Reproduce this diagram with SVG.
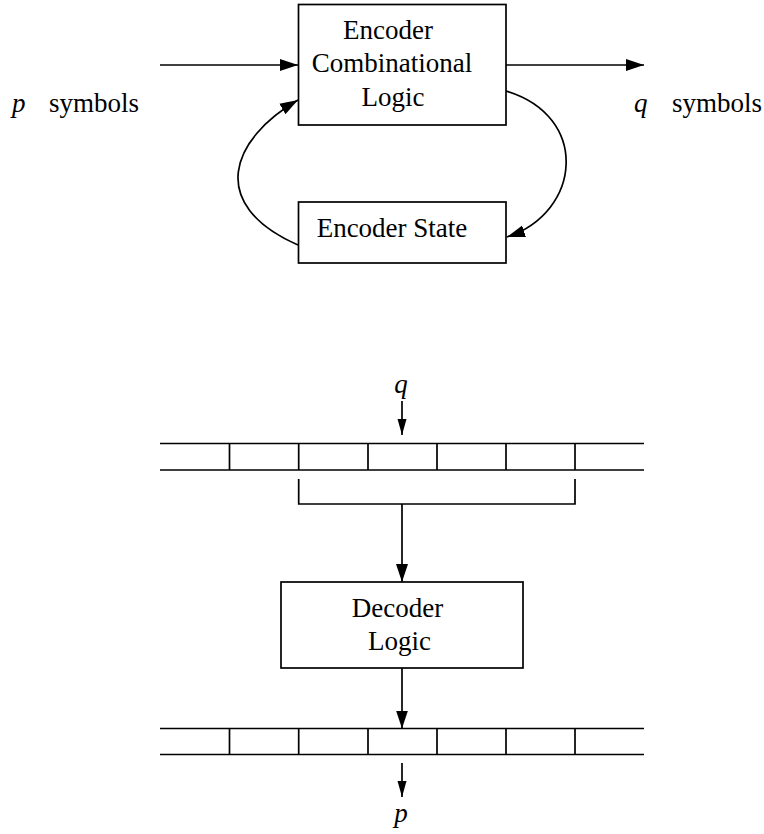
<svg xmlns="http://www.w3.org/2000/svg" width="764" height="834" viewBox="0 0 764 834">
<style>
.ln{fill:none;stroke:#000;stroke-width:1.7}
.bx{fill:#fff;stroke:#000;stroke-width:1.7}
.i{font-style:italic}
.m{text-anchor:middle}
</style>
<defs>
<marker id="ah" markerUnits="userSpaceOnUse" markerWidth="18" markerHeight="13" refX="18" refY="6.5" orient="auto">
<path d="M0,0.5 L18,6.5 L0,12.5 z" fill="#000"/>
</marker>
<marker id="as" markerUnits="userSpaceOnUse" markerWidth="16" markerHeight="10" refX="16" refY="5" orient="auto">
<path d="M0,0.5 L16,5 L0,9.5 z" fill="#000"/>
</marker>
</defs>
<rect width="764" height="834" fill="#fff"/>

<g id="connectors">
<line class="ln" x1="160" y1="65" x2="298" y2="65" marker-end="url(#ah)"/>
<line class="ln" x1="506" y1="65" x2="644" y2="65" marker-end="url(#ah)"/>
<path class="ln" d="M506,91 C590,116 582,212 507,237" marker-end="url(#ah)"/>
<path class="ln" d="M298,245 C205.5,204 231.5,138.6 298,100" marker-end="url(#ah)"/>
<line class="ln" x1="402" y1="401" x2="402" y2="435" marker-end="url(#as)"/>
<path class="ln" d="M298.7,479 V504 H575 V479"/>
<line class="ln" x1="402" y1="504" x2="402" y2="582" marker-end="url(#ah)"/>
<line class="ln" x1="402" y1="668" x2="402" y2="728.5" marker-end="url(#ah)"/>
<line class="ln" x1="402" y1="763" x2="402" y2="797" marker-end="url(#as)"/>
</g>

<g id="encoder-logic" font-family="Liberation Serif, Times New Roman, serif" font-size="27" fill="#000">
<rect class="bx" x="298.5" y="4.5" width="207.5" height="120.5"/>
<text class="m" x="388" y="39">Encoder</text>
<text class="m" x="392" y="72">Combinational</text>
<text class="m" x="393" y="106">Logic</text>
</g>

<g id="encoder-state" font-family="Liberation Serif, Times New Roman, serif" font-size="27" fill="#000">
<rect class="bx" x="298.5" y="202" width="207.5" height="61"/>
<text class="m" x="392" y="237">Encoder State</text>
</g>

<g id="input-label" font-family="Liberation Serif, Times New Roman, serif" font-size="27" fill="#000">
<text class="i" x="12" y="112">p</text>
<text x="49" y="112">symbols</text>
</g>

<g id="output-label" font-family="Liberation Serif, Times New Roman, serif" font-size="27" fill="#000">
<text class="i" x="634" y="112">q</text>
<text x="672" y="112">symbols</text>
</g>

<g id="q-label" font-family="Liberation Serif, Times New Roman, serif" font-size="27" fill="#000">
<text class="i m" x="401" y="393">q</text>
</g>

<g id="input-register">
<path class="ln" d="M160,443.5 H644 M160,470 H644 M229.5,443.5 V470 M298.7,443.5 V470 M368,443.5 V470 M437,443.5 V470 M506,443.5 V470 M575,443.5 V470"/>
</g>

<g id="decoder-logic" font-family="Liberation Serif, Times New Roman, serif" font-size="27" fill="#000">
<rect class="bx" x="281" y="582" width="242" height="86"/>
<text class="m" x="397.5" y="617">Decoder</text>
<text class="m" x="399.5" y="650">Logic</text>
</g>

<g id="output-register">
<path class="ln" d="M160,728.5 H644 M160,754.5 H644 M229.5,728.5 V754.5 M298.7,728.5 V754.5 M368,728.5 V754.5 M437,728.5 V754.5 M506,728.5 V754.5 M575,728.5 V754.5"/>
</g>

<g id="p-label" font-family="Liberation Serif, Times New Roman, serif" font-size="27" fill="#000">
<text class="i m" x="401" y="822">p</text>
</g>
</svg>
